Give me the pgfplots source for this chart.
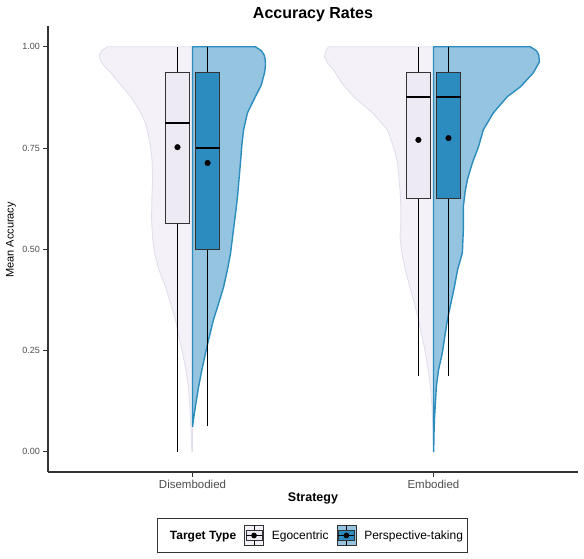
\documentclass[border=0pt]{standalone}
\usepackage{fontspec}
\setmainfont{Liberation Sans}
\usepackage{pgfplots}
\pgfplotsset{compat=1.18}
\usepgfplotslibrary{statistics}
\usepackage{pgfplotstable}

\definecolor{egoviolin}{HTML}{F4F2F8}
\definecolor{egoedge}{HTML}{E2DEEC}
\definecolor{egobox}{HTML}{EEEAF4}
\definecolor{ptviolin}{HTML}{94C4DF}
\definecolor{ptedge}{HTML}{2B8CBE}
\definecolor{ptbox}{HTML}{2C8CBF}
\definecolor{boxline}{HTML}{333333}
\definecolor{axisgray}{HTML}{333333}
\definecolor{ticktext}{HTML}{4D4D4D}

% Split-violin half widths (v = accuracy, hw = half width in category units)
\pgfplotstableread{
v hw
0.000 0.000
0.000 0.003
0.040 0.005
0.080 0.008
0.120 0.012
0.160 0.017
0.200 0.027
0.244 0.041
0.280 0.055
0.326 0.071
0.360 0.088
0.407 0.112
0.450 0.140
0.491 0.158
0.530 0.166
0.573 0.170
0.620 0.169
0.672 0.166
0.720 0.168
0.753 0.174
0.780 0.183
0.812 0.195
0.845 0.222
0.877 0.257
0.905 0.297
0.936 0.340
0.955 0.370
0.968 0.384
0.980 0.386
0.990 0.378
1.000 0.353
1.000 0.000
0.000 0.000
}\disego

\pgfplotstableread{
v hw
0.0617 0.000
0.080 0.004
0.120 0.014
0.160 0.025
0.200 0.038
0.244 0.054
0.280 0.068
0.326 0.087
0.360 0.105
0.407 0.129
0.450 0.145
0.491 0.158
0.530 0.166
0.568 0.174
0.600 0.181
0.632 0.187
0.680 0.194
0.714 0.199
0.760 0.205
0.795 0.212
0.837 0.228
0.877 0.261
0.905 0.285
0.936 0.299
0.955 0.303
0.968 0.302
0.980 0.297
0.990 0.286
1.000 0.261
1.000 0.000
0.0617 0.000
}\dispt

\pgfplotstableread{
v hw
0.030 0.000
0.030 0.001
0.060 0.002
0.111 0.006
0.160 0.012
0.200 0.021
0.244 0.033
0.280 0.046
0.326 0.062
0.360 0.076
0.407 0.098
0.450 0.117
0.491 0.131
0.531 0.139
0.565 0.135
0.600 0.135
0.630 0.137
0.670 0.142
0.714 0.149
0.753 0.166
0.795 0.191
0.837 0.253
0.877 0.332
0.910 0.380
0.943 0.415
0.960 0.440
0.975 0.452
0.988 0.448
1.000 0.436
1.000 0.000
0.030 0.000
}\embego

\pgfplotstableread{
v hw
0.000 0.000
0.000 0.001
0.040 0.002
0.079 0.004
0.120 0.008
0.160 0.012
0.202 0.021
0.244 0.037
0.280 0.046
0.326 0.058
0.360 0.070
0.407 0.087
0.449 0.100
0.491 0.120
0.548 0.124
0.605 0.124
0.640 0.131
0.672 0.141
0.714 0.162
0.753 0.187
0.795 0.207
0.837 0.249
0.877 0.307
0.901 0.361
0.936 0.415
0.963 0.440
0.980 0.437
0.990 0.428
1.000 0.402
1.000 0.000
0.000 0.000
}\embpt

\pgfplotsset{
  egoviolinstyle/.style={forget plot, fill=egoviolin, draw=egoedge, line width=0.9bp, line join=round},
  ptviolinstyle/.style={forget plot, fill=ptviolin, draw=ptedge, line width=1.4bp, line join=round},
  boxstyle/.style={forget plot, boxplot/draw direction=y, draw=boxline, line width=0.9bp,
    boxplot/every whisker/.style={line width=0.7bp, draw=black},
    boxplot/every median/.style={line width=2bp, draw=black}},
}

\begin{document}
\begin{tikzpicture}
\useasboundingbox (-48bp,-87bp) rectangle (536bp,472bp);
\begin{axis}[
  at={(0,0)}, anchor=south west,
  scale only axis, width=530bp, height=445.5bp,
  xmin=0.4, xmax=2.6, ymin=-0.05, ymax=1.05,
  axis x line*=bottom, axis y line*=left,
  axis line style={draw=axisgray, line width=1.1bp, -},
  xtick={1,2}, xticklabels={Disembodied,Embodied},
  ytick={0,0.25,0.5,0.75,1}, yticklabels={0.00,0.25,0.50,0.75,1.00},
  tick align=outside, major tick length=4.5bp,
  tick style={draw=axisgray, line width=0.9bp},
  /pgf/number format/assume math mode=true,
  xticklabel style={font=\fontsize{11.5bp}{13bp}\selectfont, text=ticktext},
  yticklabel style={font=\fontsize{9bp}{11bp}\selectfont, text=ticktext},
  xlabel={\textbf{Strategy}},
  xlabel style={font=\fontsize{12.5bp}{14bp}\selectfont, at={(axis description cs:0.5,-0.0673)}, anchor=base},
  ylabel={Mean Accuracy},
  ylabel style={font=\fontsize{11bp}{13bp}\selectfont, at={(axis description cs:-0.0698,0.521)}, anchor=center},
  title={\textbf{Accuracy Rates}},
  title style={font=\fontsize{16bp}{18bp}\selectfont, at={(axis description cs:0.5,1.0056)}, anchor=base},
  legend columns=3,
  legend style={at={(axis description cs:0.499,-0.1425)}, anchor=center,
    draw=axisgray, line width=0.9bp, font=\fontsize{12bp}{14bp}\selectfont,
    inner xsep=4bp, inner ysep=6.5bp,
    nodes={inner sep=0pt, anchor=base west},
    /tikz/column sep=8bp},
  clip=false,
]
% violins: egocentric on the left half, perspective-taking on the right half
\addplot[egoviolinstyle] table[x expr={1-\thisrow{hw}}, y=v] {\disego};
\addplot[egoviolinstyle] table[x expr={2-\thisrow{hw}}, y=v] {\embego};
\addplot[ptviolinstyle] table[x expr={1+\thisrow{hw}}, y=v] {\dispt};
\addplot[ptviolinstyle] table[x expr={2+\thisrow{hw}}, y=v] {\embpt};

% box plots
\addplot[boxstyle, boxplot/every box/.style={fill=egobox},
  boxplot prepared={lower whisker=0, lower quartile=0.5625, median=0.8125,
    upper quartile=0.9375, upper whisker=1, draw position=0.9375,
    box extend=0.1, whisker extend=0}] coordinates {};
\addplot[boxstyle, boxplot/every box/.style={fill=ptbox},
  boxplot prepared={lower whisker=0.0625, lower quartile=0.5, median=0.75,
    upper quartile=0.9375, upper whisker=1, draw position=1.0625,
    box extend=0.1, whisker extend=0}] coordinates {};
\addplot[boxstyle, boxplot/every box/.style={fill=egobox},
  boxplot prepared={lower whisker=0.1875, lower quartile=0.625, median=0.875,
    upper quartile=0.9375, upper whisker=1, draw position=1.9375,
    box extend=0.1, whisker extend=0}] coordinates {};
\addplot[boxstyle, boxplot/every box/.style={fill=ptbox},
  boxplot prepared={lower whisker=0.1875, lower quartile=0.625, median=0.875,
    upper quartile=0.9375, upper whisker=1, draw position=2.0625,
    box extend=0.1, whisker extend=0}] coordinates {};

% group means
\addplot[forget plot, only marks, mark=*, mark size=2.8bp, black]
  coordinates {(0.9375,0.752) (1.0625,0.713) (1.9375,0.770) (2.0625,0.7745)};

% legend
\addlegendimage{empty legend}
\addlegendentry{\textbf{Target Type}}
\addlegendimage{legend image code/.code={
  \begin{scope}[yshift=4.3bp]
  \draw[draw=axisgray, fill=egoviolin, line width=0.7bp] (0bp,-10bp) rectangle (19bp,10bp);
  \draw[black, line width=0.6bp] (9.5bp,-10bp) -- (9.5bp,10bp);
  \draw[draw=boxline, fill=egobox, line width=0.7bp] (1.5bp,-5bp) rectangle (17.5bp,5bp);
  \draw[black, line width=1.4bp] (1.5bp,0bp) -- (17.5bp,0bp);
  \fill[black] (9.5bp,0bp) circle (2.4bp);
  \end{scope}}}
\addlegendentry{Egocentric}
\addlegendimage{legend image code/.code={
  \begin{scope}[yshift=4.3bp]
  \draw[draw=axisgray, fill=ptviolin, line width=0.7bp] (0bp,-10bp) rectangle (19bp,10bp);
  \draw[black, line width=0.6bp] (9.5bp,-10bp) -- (9.5bp,10bp);
  \draw[draw=boxline, fill=ptbox, line width=0.7bp] (1.5bp,-5bp) rectangle (17.5bp,5bp);
  \draw[black, line width=1.4bp] (1.5bp,0bp) -- (17.5bp,0bp);
  \fill[black] (9.5bp,0bp) circle (2.4bp);
  \end{scope}}}
\addlegendentry{Perspective-taking}
\end{axis}
\end{tikzpicture}
\end{document}
